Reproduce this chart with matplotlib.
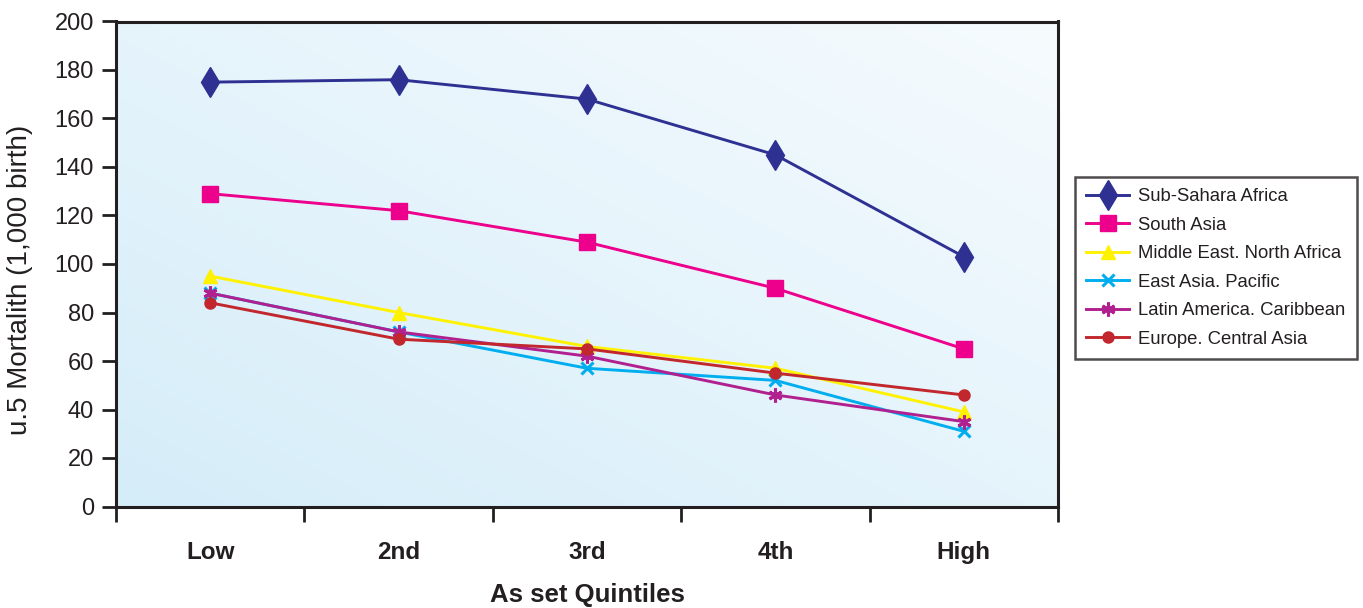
import numpy as np
import matplotlib
matplotlib.use("Agg")
import matplotlib.pyplot as plt
from matplotlib.colors import LinearSegmentedColormap

plt.rcParams['font.family'] = ['Liberation Sans', 'DejaVu Sans']

quintiles = ["Low", "2nd", "3rd", "4th", "High"]
sub_sahara = [175, 176, 168, 145, 103]
south_asia = [129, 122, 109, 90, 65]
middle_east = [95, 80, 66, 57, 39]
east_asia = [88, 72, 57, 52, 31]
latin_america = [88, 72, 62, 46, 35]
europe = [84, 69, 65, 55, 46]

series = [
    ("Sub-Sahara Africa", sub_sahara, "#2e3192", "d", 15, 1.0),
    ("South Asia", south_asia, "#ec008c", "s", 11, 1.0),
    ("Middle East. North Africa", middle_east, "#fff200", "^", 10, 1.0),
    ("East Asia. Pacific", east_asia, "#00aeef", "x", 9, 2.2),
    ("Latin America. Caribbean", latin_america, "#b0208f", (6, 2, 0), 10, 2.2),
    ("Europe. Central Asia", europe, "#c1272d", "o", 8, 1.0),
]

fig = plt.figure(figsize=(13.63, 6.08), dpi=100)
ax = fig.add_axes([116 / 1363, 1 - 506.5 / 608, 942 / 1363, 485 / 608])

# diagonal light-blue gradient for the plotting area
n = 256
gx, gy = np.meshgrid(np.linspace(0, 1, n), np.linspace(0, 1, n))
grad = (gx + gy) / 2
cmap = LinearSegmentedColormap.from_list("bg", ["#d5edf9", "#f6fbfe"])
ax.imshow(grad, cmap=cmap, origin="lower", extent=[-0.5, 4.5, 0, 200],
          aspect="auto", zorder=0, interpolation="bicubic")

x = np.arange(len(quintiles))
for name, vals, color, marker, ms, mew in series:
    ax.plot(x, vals, color=color, lw=2.1, marker=marker, markersize=ms,
            markeredgewidth=mew, markeredgecolor=color, markerfacecolor=color,
            label=name, zorder=3)

ax.set_xlim(-0.5, 4.5)
ax.set_ylim(0, 200)
ax.set_yticks(np.arange(0, 201, 20))
ax.tick_params(axis="y", which="major", length=10, width=2, labelsize=17, pad=6,
               colors="#231f20")

ax.set_xticks(np.arange(-0.5, 4.6, 1))
ax.set_xticklabels([])
ax.tick_params(axis="x", which="major", length=11, width=2, direction="out",
               color="#231f20")
ax.set_xticks(x, minor=True)
ax.set_xticklabels(quintiles, minor=True, fontsize=17.5, fontweight="bold",
                   color="#231f20")
ax.tick_params(axis="x", which="minor", length=0, pad=24.5)

for sp in ax.spines.values():
    sp.set_linewidth(2.2)
    sp.set_color("#231f20")

ax.set_xlabel("As set Quintiles", fontsize=18.5, fontweight="bold", color="#231f20")
ax.xaxis.set_label_coords(0.5, -0.157)
ax.set_ylabel("u.5 Mortalith (1,000 birth)", fontsize=20, color="#231f20")
ax.yaxis.set_label_coords(-0.088, 0.468)

leg = fig.legend(loc="upper left", bbox_to_anchor=(1075 / 1363, 1 - 177 / 608),
                 frameon=True, fancybox=False, fontsize=13.3, handlelength=2.3,
                 labelspacing=0.62, borderpad=0.62, handletextpad=0.5,
                 borderaxespad=0)
leg.get_frame().set_edgecolor("#231f20")
leg.get_frame().set_linewidth(1.8)
for t in leg.get_texts():
    t.set_color("#231f20")

fig.savefig("out.png", dpi=100)
